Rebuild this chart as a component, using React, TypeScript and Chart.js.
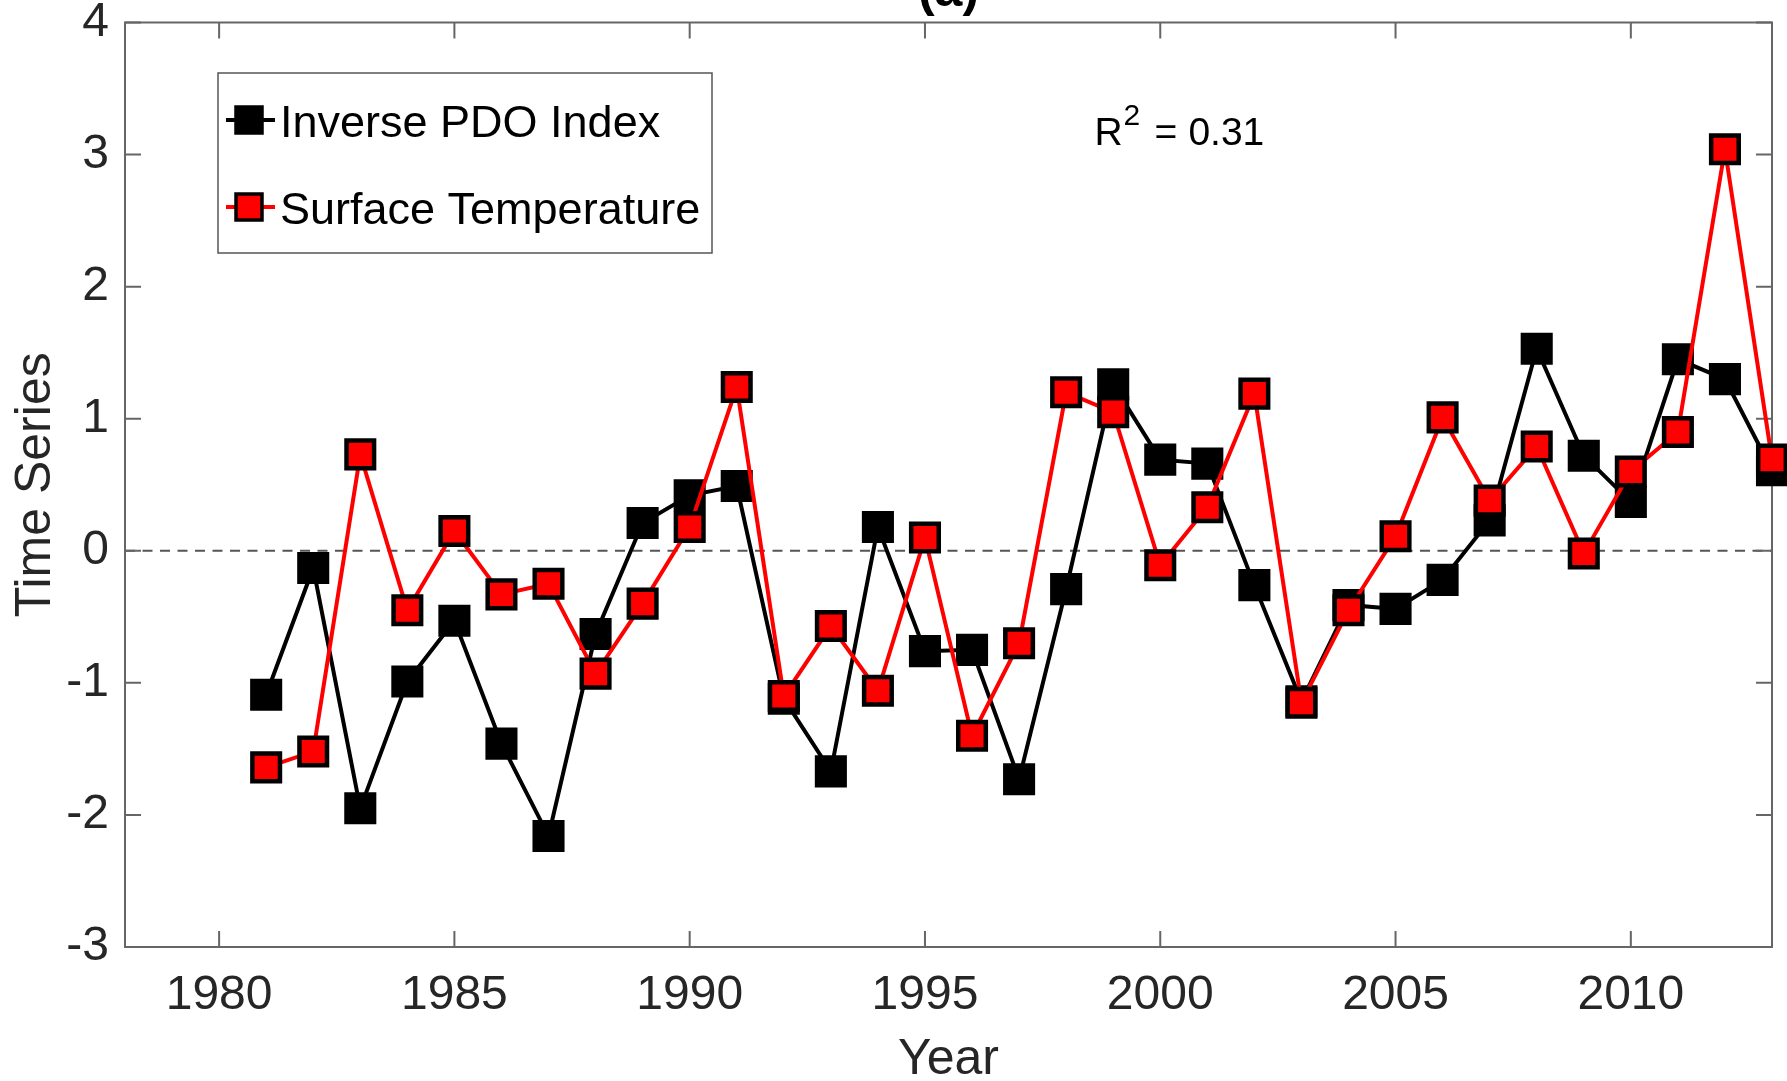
import React, { useEffect, useRef } from 'react';
import { Chart, registerables } from 'chart.js';

Chart.register(...registerables);

// ---------------- data ----------------
const years = [
  1981, 1982, 1983, 1984, 1985, 1986, 1987, 1988, 1989, 1990, 1991,
  1992, 1993, 1994, 1995, 1996, 1997, 1998, 1999, 2000, 2001, 2002,
  2003, 2004, 2005, 2006, 2007, 2008, 2009, 2010, 2011, 2012, 2013,
];
const inversePDO = [
  -1.09, -0.13, -1.95, -0.99, -0.53, -1.46, -2.16, -0.63, 0.21, 0.42, 0.49,
  -1.12, -1.67, 0.18, -0.76, -0.75, -1.73, -0.29, 1.26, 0.69, 0.66, -0.26,
  -1.14, -0.41, -0.44, -0.22, 0.23, 1.53, 0.72, 0.37, 1.45, 1.3, 0.61,
];
const surfaceTemp = [
  -1.64, -1.52, 0.73, -0.45, 0.15, -0.33, -0.25, -0.93, -0.4, 0.18, 1.24,
  -1.1, -0.57, -1.06, 0.1, -1.4, -0.7, 1.2, 1.05, -0.11, 0.33, 1.19,
  -1.15, -0.45, 0.11, 1.01, 0.38, 0.79, -0.02, 0.6, 0.9, 3.04, 0.69,
];
const seriesLabels = ['Inverse PDO Index', 'Surface Temperature'];
const seriesColors = ['#000000', '#ff0000'];
const xTicks = [1980, 1985, 1990, 1995, 2000, 2005, 2010];
const yTicks = [-3, -2, -1, 0, 1, 2, 3, 4];
const xRange = [1978, 2013];
const yRange = [-3, 4];
const titleText = '(a)';
const xTitle = 'Year';
const yTitle = 'Time Series';
const r2Parts = ['R', '2', '=', '0.31'];
const r2Anchor = [1998.6, 3.07];

const FONT = '"Liberation Sans", Arial, Helvetica, sans-serif';
const AXIS_COLOR = '#262626';
const FRAME_COLOR = '#666666';

const decorPlugin = {
  id: 'decor',
  beforeDatasetsDraw(chart: any) {
    const { ctx, chartArea: a, scales } = chart;
    const xs = scales.x;
    const ys = scales.y;
    ctx.save();
    // dashed zero line
    const y0 = ys.getPixelForValue(0);
    ctx.strokeStyle = '#555555';
    ctx.lineWidth = 2;
    ctx.setLineDash([10, 7.5]);
    ctx.beginPath();
    ctx.moveTo(a.left, y0);
    ctx.lineTo(a.right, y0);
    ctx.stroke();
    ctx.setLineDash([]);
    // frame
    ctx.strokeStyle = FRAME_COLOR;
    ctx.lineWidth = 2;
    ctx.strokeRect(a.left, a.top, a.right - a.left, a.bottom - a.top);
    // inward ticks
    const tl = 16;
    ctx.beginPath();
    xs.ticks.forEach((t: any) => {
      const px = xs.getPixelForValue(t.value);
      ctx.moveTo(px, a.bottom);
      ctx.lineTo(px, a.bottom - tl);
      ctx.moveTo(px, a.top);
      ctx.lineTo(px, a.top + tl);
    });
    ys.ticks.forEach((t: any) => {
      const py = ys.getPixelForValue(t.value);
      ctx.moveTo(a.left, py);
      ctx.lineTo(a.left + tl, py);
      ctx.moveTo(a.right, py);
      ctx.lineTo(a.right - tl, py);
    });
    ctx.stroke();
    ctx.restore();
  },
  afterDraw(chart: any) {
    const { ctx, chartArea: a, scales } = chart;
    const xs = scales.x;
    const ys = scales.y;
    ctx.save();
    // title (cut at top)
    ctx.fillStyle = '#000000';
    ctx.font = `bold 50px ${FONT}`;
    ctx.textAlign = 'center';
    ctx.textBaseline = 'alphabetic';
    ctx.fillText(titleText, (a.left + a.right) / 2, 6);

    // R^2 annotation
    ctx.textAlign = 'left';
    const rx = xs.getPixelForValue(r2Anchor[0]);
    const ry = ys.getPixelForValue(r2Anchor[1]);
    ctx.font = `39px ${FONT}`;
    ctx.fillText(r2Parts[0], rx, ry);
    ctx.font = `30px ${FONT}`;
    ctx.fillText(r2Parts[1], rx + 29, ry - 20);
    ctx.font = `39px ${FONT}`;
    ctx.fillText(r2Parts[2], rx + 60, ry);
    ctx.fillText(r2Parts[3], rx + 94, ry);

    // legend
    const lx = a.left + 93;
    const ly = a.top + 50.5;
    const lw = 494;
    const lh = 180;
    ctx.fillStyle = '#ffffff';
    ctx.fillRect(lx, ly, lw, lh);
    ctx.strokeStyle = '#555555';
    ctx.lineWidth = 1.5;
    ctx.strokeRect(lx, ly, lw, lh);
    const rowY = [ly + 47, ly + 134];
    chart.data.datasets.forEach((ds: any, i: number) => {
      const cy = rowY[i];
      ctx.strokeStyle = ds.borderColor;
      ctx.lineWidth = 4;
      ctx.beginPath();
      ctx.moveTo(lx + 8, cy);
      ctx.lineTo(lx + 57, cy);
      ctx.stroke();
      const s = 26;
      ctx.fillStyle = ds.pointBackgroundColor;
      ctx.fillRect(lx + 31 - s / 2, cy - s / 2, s, s);
      ctx.strokeStyle = '#000000';
      ctx.lineWidth = 3.5;
      ctx.strokeRect(lx + 31 - s / 2, cy - s / 2, s, s);
      ctx.fillStyle = '#000000';
      ctx.font = `45px ${FONT}`;
      ctx.textAlign = 'left';
      ctx.textBaseline = 'alphabetic';
      ctx.fillText(ds.label, lx + 62, cy + 17);
    });
    ctx.restore();
  },
};

export default function App() {
  const canvasRef = useRef<HTMLCanvasElement | null>(null);

  useEffect(() => {
    const canvas = canvasRef.current;
    if (!canvas) return;
    Chart.defaults.font.family = FONT;
    const mk = (vals: number[]) => years.map((yr, i) => ({ x: yr, y: vals[i] }));
    const chart = new Chart(canvas, {
      type: 'line',
      data: {
        datasets: [
          {
            label: seriesLabels[0],
            data: mk(inversePDO),
            borderColor: seriesColors[0],
            backgroundColor: seriesColors[0],
            borderWidth: 4,
            pointStyle: 'rect',
            pointRadius: 19.5,
            pointBorderWidth: 4.5,
            pointBorderColor: '#000000',
            pointBackgroundColor: seriesColors[0],
            tension: 0,
            clip: false,
            order: 1,
          },
          {
            label: seriesLabels[1],
            data: mk(surfaceTemp),
            borderColor: seriesColors[1],
            backgroundColor: seriesColors[1],
            borderWidth: 4,
            pointStyle: 'rect',
            pointRadius: 19.5,
            pointBorderWidth: 4.5,
            pointBorderColor: '#000000',
            pointBackgroundColor: seriesColors[1],
            tension: 0,
            clip: false,
            order: 0,
          },
        ],
      },
      options: {
        responsive: false,
        animation: false,
        devicePixelRatio: 1,
        layout: { autoPadding: false, padding: { top: 22.5, right: 15, bottom: 0, left: 0 } },
        plugins: {
          legend: { display: false },
          tooltip: { enabled: false },
          title: { display: false },
        },
        events: [],
        scales: {
          x: {
            type: 'linear',
            min: xRange[0],
            max: xRange[1],
            afterBuildTicks: (s: any) => {
              s.ticks = xTicks.map((v) => ({ value: v }));
            },
            afterFit: (s: any) => {
              s.height = 134;
              s.paddingLeft = 0;
              s.paddingRight = 0;
            },
            grid: { display: false, drawTicks: false },
            border: { display: false },
            ticks: {
              callback: (v: any) => String(v),
              font: { size: 48, family: FONT },
              color: AXIS_COLOR,
              padding: 20,
              maxRotation: 0,
              autoSkip: false,
            },
            title: {
              display: true,
              text: xTitle,
              color: AXIS_COLOR,
              font: { size: 50, family: FONT, lineHeight: 0.82 },
              padding: 0,
            },
          },
          y: {
            type: 'linear',
            min: yRange[0],
            max: yRange[1],
            afterBuildTicks: (s: any) => {
              s.ticks = yTicks.map((v) => ({ value: v }));
            },
            afterFit: (s: any) => {
              s.width = 125;
              s.paddingTop = 0;
              s.paddingBottom = 0;
            },
            grid: { display: false, drawTicks: false },
            border: { display: false },
            ticks: {
              callback: (v: any) => String(v),
              font: { size: 48, family: FONT },
              color: AXIS_COLOR,
              padding: 16,
              autoSkip: false,
            },
            title: {
              display: true,
              text: yTitle,
              color: AXIS_COLOR,
              font: { size: 50, family: FONT, lineHeight: 1 },
              padding: { top: 11, bottom: 0 },
            },
          },
        },
      },
      plugins: [decorPlugin],
    } as any);
    return () => chart.destroy();
  }, []);

  return (
    <div style={{ position: 'absolute', left: 0, top: 0, width: 1787, height: 1081, background: '#ffffff' }}>
      <canvas ref={canvasRef} width={1787} height={1081} style={{ display: 'block', width: 1787, height: 1081 }} />
    </div>
  );
}
